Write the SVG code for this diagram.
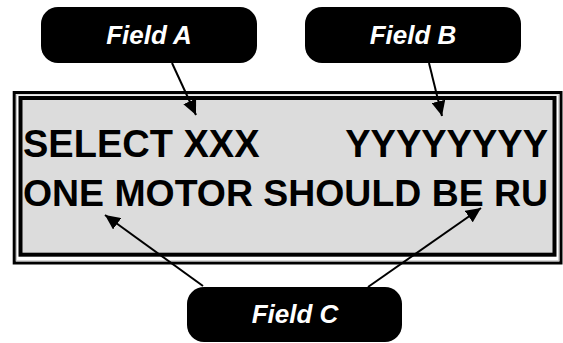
<svg xmlns="http://www.w3.org/2000/svg" width="563" height="343" viewBox="0 0 563 343">
<style>
.box{fill:#000}
.lbl{font-family:"Liberation Sans",Arial,sans-serif;font-weight:bold;font-style:italic;font-size:26px;fill:#fff;text-anchor:middle}
.lcd{font-family:"Liberation Sans",Arial,sans-serif;font-weight:bold;font-size:38px;fill:#000}
.lcd2{font-family:"Liberation Sans",Arial,sans-serif;font-weight:bold;font-size:37px;fill:#000}
.con{stroke:#000;stroke-width:2;fill:none;marker-end:url(#ah)}
</style>
<defs>
<marker id="ah" markerUnits="userSpaceOnUse" markerWidth="16" markerHeight="14" refX="15" refY="7" orient="auto">
<path d="M0,0 L15,7 L0,14 Z" fill="#000"/>
</marker>
</defs>
<rect width="563" height="343" fill="#fff"/>
<g id="display">
<rect x="14.2" y="92.5" width="546.8" height="170.5" fill="#fff" stroke="#000" stroke-width="3"/>
<rect x="16.5" y="94.8" width="542.2" height="166" fill="none" stroke="#c8c8c8" stroke-width="1"/>
<rect x="20.5" y="98" width="534" height="156.7" fill="#dcdcdc" stroke="#000" stroke-width="4"/>
<text class="lcd" x="23" y="157">SELECT XXX</text>
<text class="lcd" x="548" y="157" text-anchor="end">YYYYYYYY</text>
<text class="lcd2" x="23" y="206" textLength="525" lengthAdjust="spacingAndGlyphs">ONE MOTOR SHOULD BE RU</text>
</g>
<g id="connectors">
<line class="con" x1="172" y1="63" x2="196" y2="115"/>
<line class="con" x1="429" y1="63" x2="442" y2="116"/>
<line class="con" x1="203" y1="286" x2="105" y2="215"/>
<line class="con" x1="368" y1="287" x2="481" y2="208"/>
</g>
<g id="fieldA">
<rect class="box" x="41" y="7" width="216" height="56" rx="17"/>
<text class="lbl" x="149" y="44">Field A</text>
</g>
<g id="fieldB">
<rect class="box" x="305" y="7" width="216" height="56" rx="17"/>
<text class="lbl" x="413" y="44">Field B</text>
</g>
<g id="fieldC">
<rect class="box" x="187" y="287" width="215" height="55" rx="17"/>
<text class="lbl" x="295" y="323">Field C</text>
</g>
</svg>
